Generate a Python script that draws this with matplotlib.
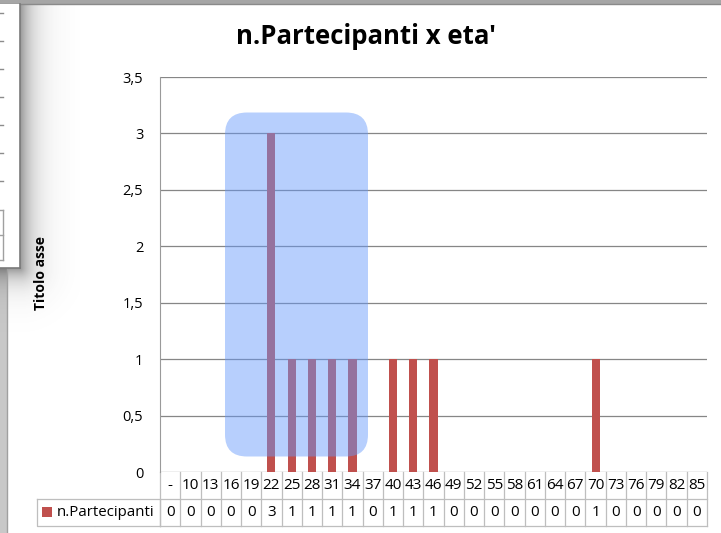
import matplotlib
matplotlib.use('Agg')
import matplotlib.pyplot as plt
import numpy as np
from matplotlib.patches import Rectangle, FancyBboxPatch
from matplotlib.ticker import FuncFormatter, MultipleLocator
import matplotlib.transforms as mtransforms

# ---------------- data ----------------
categories = ['-', '10', '13', '16', '19', '22', '25', '28', '31', '34', '37',
              '40', '43', '46', '49', '52', '55', '58', '61', '64', '67', '70',
              '73', '76', '79', '82', '85']
values = [0, 0, 0, 0, 0, 3, 1, 1, 1, 1, 0, 1, 1, 1, 0, 0, 0, 0, 0, 0, 0, 1,
          0, 0, 0, 0, 0]
series_name = 'n.Partecipanti'
chart_title = "n.Partecipanti x eta'"
y_title = 'Titolo asse'

plt.rcParams['font.family'] = ['Open Sans', 'DejaVu Sans']

W, H = 721, 533
fig = plt.figure(figsize=(W / 100, H / 100), dpi=100)
fig.patch.set_facecolor('white')

# ---------------- background window artifacts ----------------
bg = fig.add_axes([0, 0, 1, 1], zorder=0)
bg.set_xlim(0, W)
bg.set_ylim(H, 0)
bg.axis('off')

# left window edge strip
bg.add_patch(Rectangle((0, 0), 7, H, fc='#C8C8C8', ec='none'))
bg.plot([7, 7], [0, H], color='#A0A0A0', lw=1)

# shadow of the floating panel
gx, gy = np.meshgrid(np.arange(0, 80) + 0.5, np.arange(0, 340) + 0.5)
dx = np.clip(gx - 20, 0, None)
dy = np.clip(gy - 268, 0, None)
d = np.sqrt(dx ** 2 + dy ** 2)
dark = 0.55 * np.exp(-d / 13.0)
img = np.zeros(gx.shape + (4,))
img[..., 0:3] = 0.25
img[..., 3] = dark
bg.imshow(img, extent=(0, 80, 340, 0), interpolation='bilinear', zorder=1)

# top bar
bg.add_patch(Rectangle((0, 0), W, 4, fc='#A6A6A6', ec='none', zorder=2))
bg.plot([0, W], [4, 4], color='#8A8A8A', lw=1, zorder=2)

# floating panel
bg.add_patch(Rectangle((0, 4), 19.5, 264, fc='white', ec='none', zorder=3))
bg.plot([19.5, 19.5], [4, 268], color='#7A7A7A', lw=1.2, zorder=4)
bg.plot([0, 19.5], [268, 268], color='#7A7A7A', lw=1.2, zorder=4)
for k in range(7):
    yy = 13 + 28 * k
    bg.plot([0, 2.5], [yy, yy], color='#8C8C8C', lw=1, zorder=4)
for yy in (210, 235, 260):
    bg.plot([0, 2.5], [yy, yy], color='#A0A0A0', lw=1, zorder=4)
bg.plot([2.5, 2.5], [210, 260], color='#A0A0A0', lw=1, zorder=4)

# ---------------- main chart ----------------
ax = fig.add_axes([160 / W, (H - 472) / H, 547 / W, 395 / H], zorder=2)
ax.patch.set_alpha(0)
x = np.arange(len(categories))
ax.bar(x, values, width=0.4, color='#C0504D', zorder=3)
ax.set_xlim(-0.5, len(categories) - 0.5)
ax.set_ylim(0, 3.5)
ax.yaxis.set_major_locator(MultipleLocator(0.5))
ax.yaxis.set_major_formatter(FuncFormatter(lambda v, p: f'{v:g}'.replace('.', ',')))
ax.grid(axis='y', color='#868686', lw=0.9)
ax.set_axisbelow(True)
for s in ['top', 'right', 'bottom']:
    ax.spines[s].set_visible(False)
ax.spines['left'].set_color('#9A9A9A')
ax.tick_params(axis='y', length=0, pad=12, labelsize=10.5, labelcolor='#000000')
ax.set_xticks([])

# ---------------- data table ----------------
tr = mtransforms.blended_transform_factory(ax.transData, ax.transAxes)
r1 = -27.0 / 395
r2 = -54.0 / 395
line_c = '#BEBEBE'
n = len(categories)
for i in range(n + 1):
    ax.plot([i - 0.5, i - 0.5], [0, r2], transform=tr, color=line_c, lw=0.9,
            clip_on=False)
ax.plot([-0.5, n - 0.5], [r1, r1], transform=tr, color=line_c, lw=0.9, clip_on=False)
ax.plot([-0.5, n - 0.5], [r2, r2], transform=tr, color=line_c, lw=0.9, clip_on=False)
for i, (c, v) in enumerate(zip(categories, values)):
    ax.text(i, r1 / 2, c, transform=tr, ha='center', va='center',
            fontsize=11, clip_on=False)
    ax.text(i, (r1 + r2) / 2, str(v), transform=tr, ha='center', va='center',
            fontsize=11, clip_on=False)

# legend cell of the table
bg.plot([37, 160, 160], [499, 499, 526], color=line_c, lw=0.9, zorder=5)
bg.plot([37, 37, 160], [499, 526, 526], color=line_c, lw=0.9, zorder=5)
bg.add_patch(Rectangle((42, 507), 10, 10, fc='#C0504D', ec='none', zorder=5))
bg.text(57, 512.5, series_name, ha='left', va='center', fontsize=10.8, zorder=5)

# ---------------- highlight box ----------------
top = fig.add_axes([0, 0, 1, 1], zorder=3)
top.set_xlim(0, W)
top.set_ylim(H, 0)
top.patch.set_alpha(0)
top.axis('off')
top.add_patch(FancyBboxPatch((225, 112.5), 143, 344,
                             boxstyle='round,pad=0,rounding_size=22',
                             fc='#6699FB', alpha=0.47, ec='none'))

# ---------------- titles ----------------
fig.text(366 / W, 1 - 36 / H, chart_title, ha='center', va='center',
         fontsize=18.5, fontweight='bold', zorder=5)
fig.text(41 / W, 1 - 273 / H, y_title, ha='center', va='center', rotation=90,
         fontsize=10, fontweight='bold', zorder=5)

fig.savefig('out.png', dpi=100)
